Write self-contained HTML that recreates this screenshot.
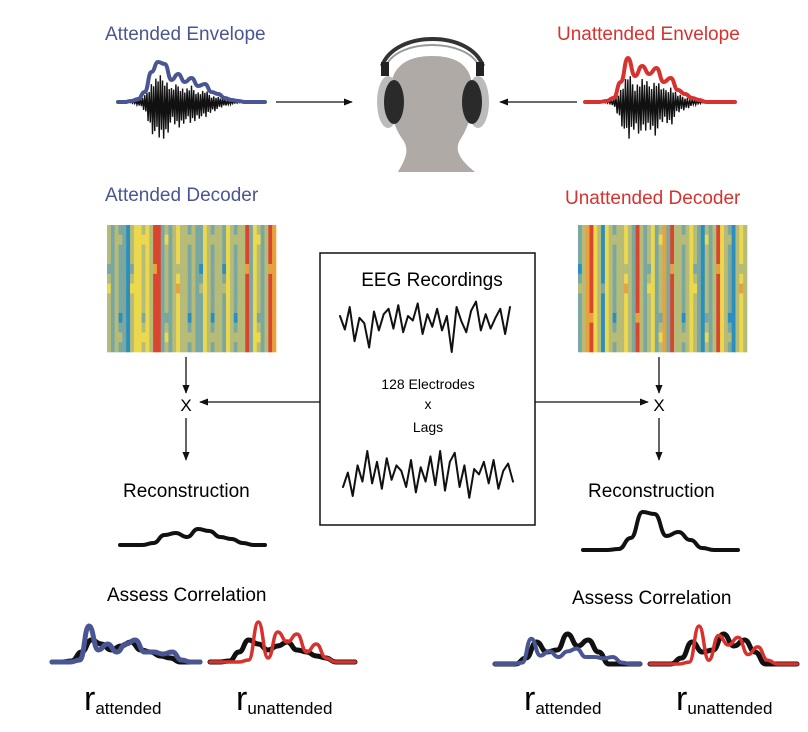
<!DOCTYPE html>
<html><head><meta charset="utf-8">
<style>
html,body{margin:0;padding:0;background:#fff;}
svg{display:block;font-family:"Liberation Sans",Arial,sans-serif;}
</style></head>
<body>
<svg id="fig" width="808" height="732" viewBox="0 0 808 732">
<defs>
<marker id="ah" viewBox="0 0 10 10" refX="9" refY="5" markerWidth="9" markerHeight="9" markerUnits="userSpaceOnUse" orient="auto">
<path d="M0,1 L10,5 L0,9 Z" fill="#111"/></marker>
</defs>
<text x="105" y="40" font-size="19" fill="#4a5694">Attended Envelope</text>
<text x="557" y="40" font-size="19" fill="#d8322e">Unattended Envelope</text>
<text x="105" y="201" font-size="19" fill="#4a5694">Attended Decoder</text>
<text x="565" y="204" font-size="19" fill="#d8322e">Unattended Decoder</text>

<g>
<path d="M398,172 C405,160 410,150 403,140 C392,125 388,105 391,85 C394,62 413,56 432,56 C452,56 470,62 472,85 C475,105 470,125 460,140 C454,150 460,160 475,172 Z" fill="#b0aaa7"/>
<path d="M382,66 C395,30 470,30 483,66" fill="none" stroke="#333" stroke-width="4"/>
<path d="M386,66 C398,38 466,38 479,66" fill="none" stroke="#999" stroke-width="2"/>
<rect x="381" y="62" width="8" height="14" fill="#222"/>
<rect x="476" y="62" width="8" height="14" fill="#222"/>
<ellipse cx="388" cy="102" rx="11" ry="26" fill="#bbb"/>
<ellipse cx="394" cy="102" rx="10" ry="22" fill="#2a2a2a"/>
<ellipse cx="478" cy="102" rx="11" ry="26" fill="#bbb"/>
<ellipse cx="472" cy="102" rx="10" ry="22" fill="#2a2a2a"/>
</g>
<line x1="276" y1="102" x2="352" y2="102" stroke="#111" stroke-width="1.3" marker-end="url(#ah)"/>
<line x1="577" y1="102" x2="500" y2="102" stroke="#111" stroke-width="1.3" marker-end="url(#ah)"/>

<g id="heatL"></g>
<g id="heatR"></g>

<rect x="320" y="253" width="215" height="272" fill="none" stroke="#111" stroke-width="1.5"/>
<text x="432" y="286" font-size="19" text-anchor="middle">EEG Recordings</text>
<text x="428" y="389" font-size="14" text-anchor="middle">128 Electrodes</text>
<text x="428" y="409" font-size="14" text-anchor="middle">x</text>
<text x="428" y="432" font-size="14" text-anchor="middle">Lags</text>

<line x1="186" y1="357" x2="186" y2="393" stroke="#111" stroke-width="1.3" marker-end="url(#ah)"/>
<text x="186" y="411" font-size="17" text-anchor="middle">X</text>
<line x1="320" y1="402" x2="200" y2="402" stroke="#111" stroke-width="1.3" marker-end="url(#ah)"/>
<line x1="186" y1="418" x2="186" y2="460" stroke="#111" stroke-width="1.3" marker-end="url(#ah)"/>
<line x1="659" y1="357" x2="659" y2="393" stroke="#111" stroke-width="1.3" marker-end="url(#ah)"/>
<text x="659" y="411" font-size="17" text-anchor="middle">X</text>
<line x1="535" y1="402" x2="648" y2="402" stroke="#111" stroke-width="1.3" marker-end="url(#ah)"/>
<line x1="659" y1="418" x2="659" y2="460" stroke="#111" stroke-width="1.3" marker-end="url(#ah)"/>

<text x="123" y="497" font-size="19">Reconstruction</text>
<text x="588" y="497" font-size="19">Reconstruction</text>
<text x="107" y="601" font-size="19">Assess Correlation</text>
<text x="572" y="604" font-size="19">Assess Correlation</text>

<g id="waves"></g>

<text x="84" y="710" font-size="34">r<tspan font-size="17" dy="4">attended</tspan></text>
<text x="236" y="710" font-size="34">r<tspan font-size="17" dy="4">unattended</tspan></text>
<text x="524" y="710" font-size="34">r<tspan font-size="17" dy="4">attended</tspan></text>
<text x="676" y="710" font-size="34">r<tspan font-size="17" dy="4">unattended</tspan></text>
</svg>
<script>
const NS="http://www.w3.org/2000/svg";
const heatColsL=[2,1,2,1,1,0,2,3,3,2,3,2,5,5,1,2,1,2,3,2,2,1,2,1,1,3,2,1,2,2,1,3,2,1,2,2,5,1,3,2,1,2,5,4];
const heatColsR=[1,2,4,5,3,2,0,3,2,1,2,2,3,2,1,5,2,1,2,3,1,2,4,1,5,2,2,1,2,3,2,1,0,2,1,2,5,3,2,1,0,2,3,2];
const heatRowShift=[0,1,0,0,-1,0,1,0,0,-1,0,1,0];
const palette=["#2a8fbf","#7aa8a0","#b7bb78","#ecd84c","#e8a23c","#d9452f"];
function heat(id,cols,x0,y0,w,h){
  const g=document.getElementById(id);
  const cw=w/cols.length, rh=h/heatRowShift.length;
  heatRowShift.forEach((s,r)=>{cols.forEach((v,c)=>{
    let k=v; if((c*7+r*3)%6===0) k=Math.max(0,Math.min(5,v+s));
    const e=document.createElementNS(NS,"rect");
    
    
    e.setAttribute("x",x0+c*cw);e.setAttribute("y",y0+r*rh);
    e.setAttribute("width",cw+0.3);e.setAttribute("height",rh+0.3);
    e.setAttribute("fill",palette[k]);g.appendChild(e);});});
}
heat("heatL",heatColsL,107,225,169,127);
heat("heatR",heatColsR,578,225,169,127);

const attEnv=[0,0,1,3,10,30,40,38,22,28,20,24,16,18,10,8,4,2,1,0,0,0,0];
const unattEnv=[0,0,0,1,4,20,44,26,36,28,34,20,24,12,8,4,2,0,0,0,0,0];
const eeg1=[10,-5,20,-18,8,2,-25,15,-6,12,18,-4,22,-8,10,5,24,-10,12,-2,18,-6,10,-30,20,4,-8,16,26,-6,12,-4,8,18,-10,20];
const eeg2=[-10,6,-20,14,-4,30,-6,18,-12,22,-2,14,8,-10,20,-16,12,-4,24,-8,30,-14,18,28,-10,14,-22,10,4,18,-6,20,-12,8,16,-4];
const recL=[0,0,0,2,10,12,8,16,14,8,6,2,0,0];
const recR=[0,0,0,1,12,38,36,14,18,10,2,0,0,0];
const reconSmallA=[0,0,1,10,22,18,12,16,20,12,10,6,4,0,0,0];
const attSmall=[0,0,0,2,36,12,18,10,18,22,10,10,8,10,2,0,0];
const unattSmall=[0,0,0,0,2,40,4,30,20,28,10,18,4,0,0,0];
const recSmallR=[0,0,0,6,22,12,14,30,18,24,12,0,0,0,0];
function path(arr,x0,w,base,scale,color,sw,name,jag){
  const g=document.getElementById("waves");
  let d="";const n=arr.length-1;
  arr.forEach((v,i)=>{const x=x0+i*w/n,y=base-v*scale;
    if(i===0)d+="M"+x+","+y;else{const px=x0+(i-1)*w/n,py=base-arr[i-1]*scale;
      if(jag)d+=" L"+x+","+y;else d+=" C"+(px+w/n/2)+","+py+" "+(x-w/n/2)+","+y+" "+x+","+y;}});
  const p=document.createElementNS(NS,"path");
  
  
  p.setAttribute("d",d);p.setAttribute("fill","none");p.setAttribute("stroke",color);
  p.setAttribute("stroke-width",sw);p.setAttribute("stroke-linejoin","round");p.setAttribute("stroke-linecap","round");
  g.appendChild(p);
}
function speech(arr,x0,w,base,scale,name){
  const g=document.getElementById("waves");let d="";const n=arr.length-1;
  for(let i=0;i<=n*6;i++){const t=i/6,a=arr[Math.floor(t)]+(arr[Math.min(n,Math.ceil(t))]-arr[Math.floor(t)])*(t-Math.floor(t));
    const x=x0+t*w/n;const s=(i%2?1:-1)*a*scale*(0.6+0.4*((i*37)%7)/7);
    d+=(i?" L":"M")+x+","+(base+Math.abs(s)*(i%2?1.2:-0.8));}
  const p=document.createElementNS(NS,"path");
  
  
  p.setAttribute("d",d);p.setAttribute("fill","none");p.setAttribute("stroke","#111");p.setAttribute("stroke-width","1.4");
  g.appendChild(p);
}
speech(attEnv,118,147,102,0.9,"attended-speech-waveform");
path(attEnv,118,147,102,1,"#4a5694",4,"attended-envelope-line");
speech(unattEnv,585,150,102,0.9,"unattended-speech-waveform");
path(unattEnv,585,150,102,1,"#d8322e",4,"unattended-envelope-line");
path(eeg1,340,170,325,0.9,"#111",2,"eeg-trace-top",true);
path(eeg2,343,170,478,0.9,"#111",2,"eeg-trace-bottom",true);
path(recL,120,145,545,1,"#111",4,"reconstruction-left-line");
path(recR,583,155,550,1,"#111",4,"reconstruction-right-line");
path(reconSmallA,52,148,662,1,"#111",5,"recon-small-left-a");
path(attSmall,52,148,662,1,"#4a5694",5,"attended-small-left");
path(reconSmallA,210,145,662,1,"#111",5,"recon-small-left-b");
path(unattSmall,210,145,662,1,"#d8322e",3.5,"unattended-small-left");
path(recSmallR,495,145,664,1,"#111",5,"recon-small-right-a");
path(attSmall,495,145,664,0.7,"#4a5694",4,"attended-small-right");
path(recSmallR,650,147,664,1,"#111",5,"recon-small-right-b");
path(unattSmall,650,147,664,0.95,"#d8322e",3.5,"unattended-small-right");
</script>
</body></html>
